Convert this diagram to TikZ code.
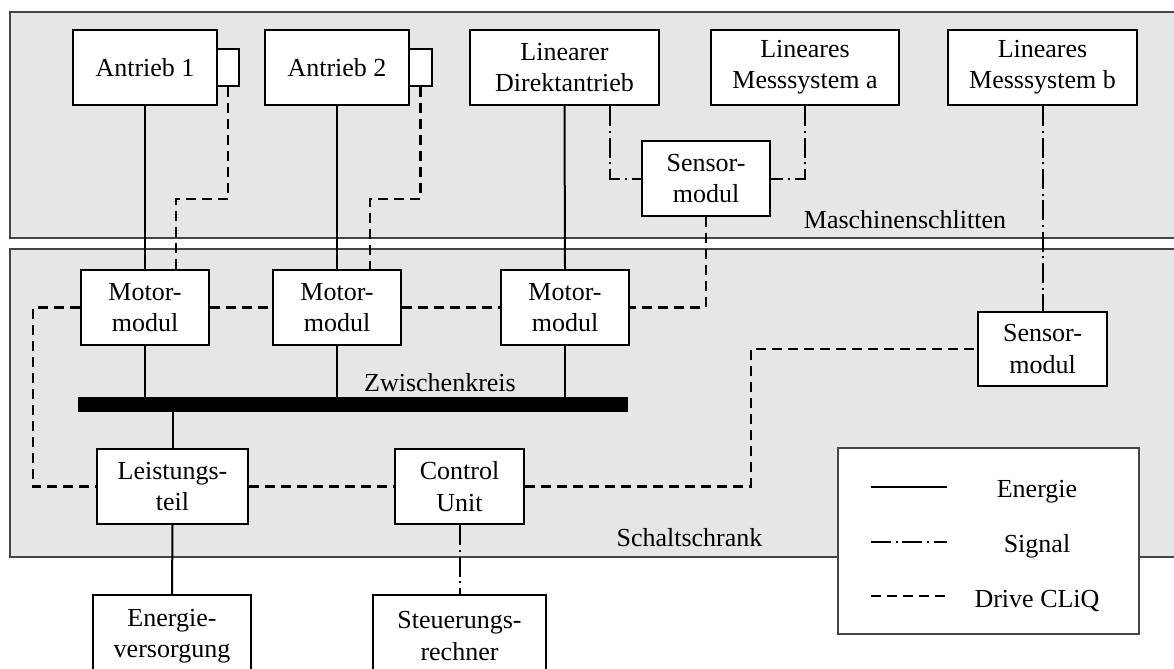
\documentclass[tikz,border=0pt]{standalone}
\usepackage{fontspec}
\setmainfont{Liberation Serif}
\begin{document}
\begin{tikzpicture}[x=0.75pt,y=-0.75pt,
  txt/.style={font=\fontsize{19.5}{23.5}\selectfont},
  box/.style={draw=black,line width=1.8pt,fill=white,inner sep=0pt,align=center,txt},
  region/.style={draw=regline,line width=1pt,fill=regbg},
  energy/.style={line width=1.5pt},
  cliq/.style={line width=1.6pt,dash pattern=on 7.5pt off 4.5pt},
  signal/.style={line width=1.5pt,dash pattern=on 15pt off 3.5pt on 1.5pt off 3.5pt}]
\definecolor{regbg}{RGB}{229,230,232}
\definecolor{regline}{RGB}{70,70,70}
\useasboundingbox (0,0) rectangle (1174,668);
\fill[white] (0,0) rectangle (1174,668);
% regions
\draw[region] (10,12) rectangle (1190,238);
\draw[region] (10,249) rectangle (1190,557);
\node[txt,anchor=base] (lblms) at (905,228) {Maschinenschlitten};
\node[txt,anchor=base] (lblss) at (689.5,546) {Schaltschrank};
% legend
\node[draw=regline,line width=1pt,fill=white,minimum width=225.75pt,minimum height=139.5pt,inner sep=0pt] (leg) at (988.5,541) {};
\coordinate (le1a) at (871,487); \coordinate (le1b) at (947,487);
\coordinate (le2a) at (871,542); \coordinate (le2b) at (947,542);
\coordinate (le3a) at (871,596); \coordinate (le3b) at (947,596);
\draw[energy] (le1a) -- (le1b);
\draw[signal] (le2a) -- (le2b);
\draw[cliq] (le3a) -- (le3b);
\node[txt,anchor=base] (lt1) at (1037,497) {Energie};
\node[txt,anchor=base] (lt2) at (1037,552) {Signal};
\node[txt,anchor=base] (lt3) at (1037,607) {Drive CLiQ};
% nodes top
\node[box,minimum width=108pt,minimum height=56.25pt] (a1) at (145,67.5) {Antrieb 1};
\node[box,minimum width=16.5pt,minimum height=27.75pt] (a1s) at (228,67.5) {};
\node[box,minimum width=108pt,minimum height=56.25pt] (a2) at (337,67.5) {Antrieb 2};
\node[box,minimum width=17.25pt,minimum height=27.75pt] (a2s) at (420.5,67.5) {};
\node[box,minimum width=141.75pt,minimum height=56.25pt] (dir) at (564.5,67.5) {Linearer\\Direktantrieb};
\node[box,minimum width=141pt,minimum height=56.25pt] (ma) at (805,67.5) {Lineares\\Messsystem a};
\node[box,minimum width=141.75pt,minimum height=56.25pt] (mb) at (1042.5,67.5) {Lineares\\Messsystem b};
\node[box,minimum width=96pt,minimum height=56.25pt] (sen1) at (706,178.5) {Sensor-\\modul};
% nodes bottom
\node[box,minimum width=96pt,minimum height=56.25pt] (mm1) at (145,307.5) {Motor-\\modul};
\node[box,minimum width=96pt,minimum height=56.25pt] (mm2) at (337,307.5) {Motor-\\modul};
\node[box,minimum width=96pt,minimum height=56.25pt] (mm3) at (565,307.5) {Motor-\\modul};
\node[box,minimum width=96.75pt,minimum height=55.5pt] (sen2) at (1042.5,349) {Sensor-\\modul};
\node[fill=black,inner sep=0pt,minimum width=412.5pt,minimum height=11.25pt] (bar) at (353,404.5) {};
\node[txt,anchor=base] (lblzk) at (440,391) {Zwischenkreis};
\node[box,minimum width=113.25pt,minimum height=56.25pt] (lt) at (172.5,486.5) {Leistungs-\\teil};
\node[box,minimum width=96.75pt,minimum height=56.25pt] (cu) at (459.5,486.5) {Control\\Unit};
\node[box,minimum width=118.5pt,minimum height=61.5pt] (ev) at (172,636) {Energie-\\versorgung};
\node[box,minimum width=129.75pt,minimum height=61.5pt] (sr) at (459.5,636) {Steuerungs-\\rechner};
% helper coordinates
\coordinate (k1) at (176,199);
\coordinate (k2) at (370,199);
\coordinate (s1x) at (610,0);
\coordinate (l1) at (33,0);
\coordinate (r1) at (751,0);
% energy connectors
\draw[energy] (a1.south) -- (mm1.north);
\draw[energy] (a2.south) -- (mm2.north);
\draw[energy] (dir.south) -- (mm3.north);
\draw[energy] (mm1.south) -- (mm1.south |- bar.north);
\draw[energy] (mm2.south) -- (mm2.south |- bar.north);
\draw[energy] (mm3.south) -- (mm3.south |- bar.north);
\draw[energy] (lt.north |- bar.south) -- (lt.north);
\draw[energy] (lt.south) -- (ev.north);
% drive cliq connectors
\draw[cliq] (a1s.south) |- (k1) -- (k1 |- mm1.north);
\draw[cliq] (a2s.south) |- (k2) -- (k2 |- mm2.north);
\draw[cliq] (mm1.east) -- (mm2.west);
\draw[cliq] (mm2.east) -- (mm3.west);
\draw[cliq] (sen1.south) |- (mm3.east);
\draw[cliq] (mm1.west) -- (mm1.west -| l1) -- (lt.west -| l1) -- (lt.west);
\draw[cliq] (lt.east) -- (cu.west);
\draw[cliq] (cu.east) -- (cu.east -| r1) -- (sen2.west -| r1) -- (sen2.west);
% signal connectors
\draw[signal] (dir.south -| s1x) |- (sen1.west);
\draw[signal] (ma.south) |- (sen1.east);
\draw[signal] (mb.south) -- (sen2.north);
\draw[signal] (cu.south) -- (sr.north);
\end{tikzpicture}
\end{document}
